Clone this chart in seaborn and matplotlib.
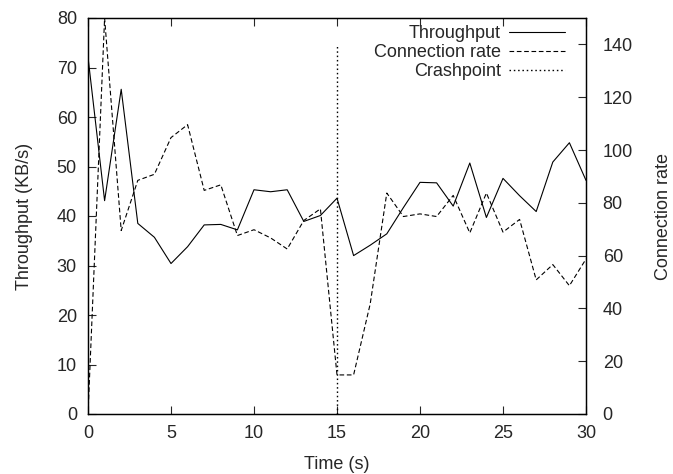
import numpy as np
import pandas as pd
import matplotlib
matplotlib.use("Agg")
import matplotlib.pyplot as plt
import seaborn as sns

# ---- data ----
time_s = list(range(0, 31))
throughput = [72.1, 43.1, 65.6, 38.5, 35.7, 30.4, 33.8, 38.2, 38.3, 37.2,
              45.3, 44.9, 45.3, 38.9, 40.1, 43.6, 32.0, 34.1, 36.4, 41.7,
              46.8, 46.7, 42.0, 50.7, 39.7, 47.6, 44.1, 40.9, 50.9, 54.8, 47.2]
conn_rate = [0, 150, 69.5, 88.5, 90.8, 104.7, 109.6, 84.7, 86.8, 67.6,
             69.8, 66.7, 62.5, 73.3, 77.7, 14.8, 14.8, 41.7, 83.7, 74.8,
             75.8, 74.8, 82.8, 68.6, 83.7, 68.9, 73.7, 50.8, 56.6, 48.6, 58.7]
crash_x = [15, 15]
crash_y = [0, 140]

x_ticks = [0, 5, 10, 15, 20, 25, 30]
left_ticks = [0, 10, 20, 30, 40, 50, 60, 70, 80]
right_ticks = [0, 20, 40, 60, 80, 100, 120, 140]

sns.set_style("ticks")
plt.rcParams["font.family"] = ["Liberation Sans", "DejaVu Sans"]
FS = 13

fig = plt.figure(figsize=(6.73, 4.74), dpi=100)
ax = fig.add_axes([88 / 673, 1 - 414 / 474, (586 - 88) / 673, (414 - 18) / 474])
ax2 = ax.twinx()

df1 = pd.DataFrame({"t": time_s, "v": throughput})
df2 = pd.DataFrame({"t": time_s, "v": conn_rate})
df3 = pd.DataFrame({"t": crash_x, "v": crash_y})

lw = 0.8
sns.lineplot(data=df1, x="t", y="v", ax=ax, color="black", linewidth=lw,
             label="Throughput", legend=False, estimator=None)
sns.lineplot(data=df2, x="t", y="v", ax=ax2, color="black", linewidth=lw,
             linestyle=(0, (4.2, 2.4)), label="Connection rate", legend=False,
             estimator=None)
sns.lineplot(data=df3, x="t", y="v", ax=ax2, color="black", linewidth=1.0,
             linestyle=(0, (1.1, 2.0)), label="Crashpoint", legend=False,
             sort=False, estimator=None)

ax.set_xlim(0, 30)
ax.set_ylim(0, 80)
ax2.set_ylim(0, 150)
ax.set_xticks(x_ticks)
ax.set_yticks(left_ticks)
ax2.set_yticks(right_ticks)

ax.set_xlabel("Time (s)", fontsize=FS, labelpad=10)
ax.set_ylabel("Throughput (KB/s)", fontsize=FS, labelpad=17)
ax2.set_ylabel("Connection rate", fontsize=FS, labelpad=16)

ax.tick_params(axis="x", direction="in", length=6, width=0.8, top=True,
               labelsize=FS, pad=8)
ax.tick_params(axis="y", direction="in", length=6, width=0.8, right=False,
               labelsize=FS, pad=8)
ax2.tick_params(axis="y", direction="in", length=6, width=0.8,
               labelsize=FS, pad=12)
ax2.tick_params(axis="x", top=False)

for a in (ax, ax2):
    for s in a.spines.values():
        s.set_visible(True)
        s.set_linewidth(0.9)
        s.set_color("black")

h1, l1 = ax.get_legend_handles_labels()
h2, l2 = ax2.get_legend_handles_labels()
leg = ax2.legend(h1 + h2, l1 + l2, loc="upper right",
                 bbox_to_anchor=(565 / 673, 1 - 25 / 474),
                 bbox_transform=fig.transFigure, frameon=False,
                 markerfirst=False, fontsize=FS, handlelength=3.1,
                 handletextpad=0.45, labelspacing=0.12, borderpad=0,
                 borderaxespad=0)
for t in leg.get_texts():
    t.set_ha("right")

fig.savefig("out.png", dpi=100)
